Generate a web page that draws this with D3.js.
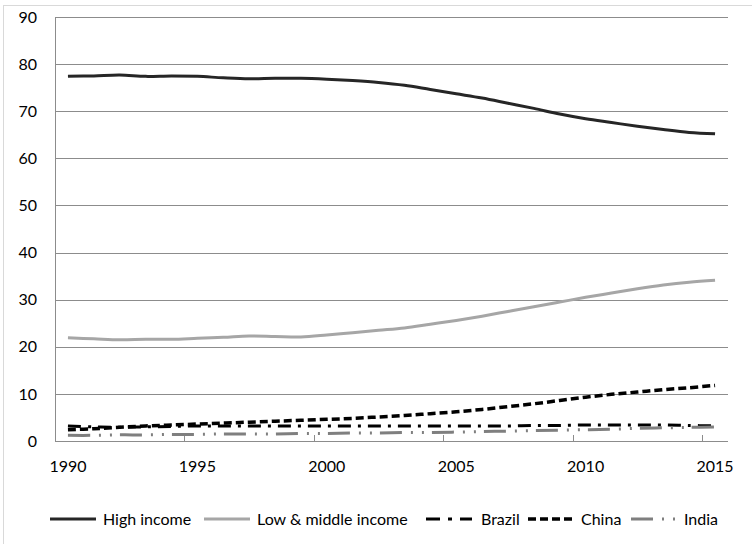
<!DOCTYPE html>
<html>
<head>
<meta charset="utf-8">
<script src="https://cdn.jsdelivr.net/npm/d3@7"></script>
<style>
  html, body { margin: 0; padding: 0; background: #fff; }
  svg { display: block; font-family: Lato, "Open Sans", sans-serif; }
</style>
</head>
<body>
<svg id="chart" width="752" height="544"></svg>
<script>
// Years on the category axis
const years = d3.range(1990, 2016);
const yTicks = [0, 10, 20, 30, 40, 50, 60, 70, 80, 90];
const xLabelYears = [1990, 1995, 2000, 2005, 2010, 2015];

// Series values, one per year
const highIncome = [77.4, 77.5, 77.7, 77.4, 77.5, 77.4, 77.1, 76.9, 77.0, 77.0,
  76.8, 76.5, 76.1, 75.5, 74.6, 73.7, 72.8, 71.7, 70.6, 69.4,
  68.4, 67.6, 66.8, 66.1, 65.5, 65.2];
const lowMiddle = [21.9, 21.7, 21.5, 21.6, 21.6, 21.8, 22.0, 22.3, 22.2, 22.1,
  22.5, 23.0, 23.5, 24.0, 24.8, 25.6, 26.5, 27.5, 28.5, 29.5,
  30.5, 31.4, 32.3, 33.1, 33.7, 34.1];
const brazil = [3.2, 3.0, 2.9, 3.0, 3.1, 3.2, 3.2, 3.2, 3.2, 3.2,
  3.2, 3.2, 3.2, 3.2, 3.2, 3.2, 3.2, 3.2, 3.3, 3.3,
  3.4, 3.4, 3.4, 3.4, 3.3, 3.2];
const china = [2.4, 2.6, 2.9, 3.2, 3.4, 3.6, 3.8, 4.0, 4.2, 4.4,
  4.6, 4.8, 5.1, 5.4, 5.8, 6.2, 6.7, 7.3, 7.9, 8.6,
  9.3, 9.9, 10.4, 10.9, 11.3, 11.8];
const india = [1.2, 1.2, 1.3, 1.3, 1.4, 1.4, 1.5, 1.5, 1.5, 1.6,
  1.6, 1.7, 1.7, 1.8, 1.8, 1.9, 2.0, 2.1, 2.2, 2.3,
  2.4, 2.5, 2.7, 2.8, 2.9, 3.0];

const seriesNames = ["High income", "Low & middle income", "Brazil", "China", "India"];
const seriesValues = [highIncome, lowMiddle, brazil, china, india];
const seriesStyle = [
  { color: "#262626", width: 3, dash: null },
  { color: "#a6a6a6", width: 3, dash: null },
  { color: "#000000", width: 3, dash: "13,7,3,7" },
  { color: "#000000", width: 3.5, dash: "8,4" },
  { color: "#7f7f7f", width: 3, dash: "22,9,2,9,2,8" }
];

const svg = d3.select("#chart");
const plot = { left: 55, right: 728, top: 17, bottom: 441 };

// Outer frame
svg.append("rect")
  .attr("x", 3.5).attr("y", 5.5)
  .attr("width", 760).attr("height", 560)
  .attr("fill", "none").attr("stroke", "#d9d9d9").attr("stroke-width", 1);

const x = d3.scaleBand().domain(years).range([plot.left, plot.right]).padding(0);
const y = d3.scaleLinear().domain([0, 90]).range([plot.bottom, plot.top]);

// Horizontal gridlines
svg.append("g")
  .selectAll("line")
  .data(yTicks.filter(d => d > 0))
  .join("line")
  .attr("x1", plot.left).attr("x2", plot.right)
  .attr("y1", d => Math.round(y(d)) + 0.5).attr("y2", d => Math.round(y(d)) + 0.5)
  .attr("stroke", "#8c8c8c").attr("stroke-width", 1);

// Y axis labels
const yAxis = d3.axisLeft(y).tickValues(yTicks).tickSize(0).tickPadding(18);
const gy = svg.append("g").attr("transform", `translate(${plot.left},0)`).call(yAxis);
gy.select(".domain").remove();
gy.selectAll("text").attr("font-size", 16).attr("fill", "#000")
  .attr("font-family", "Lato, sans-serif");

// Left axis line
svg.append("line")
  .attr("x1", plot.left + 0.5).attr("x2", plot.left + 0.5)
  .attr("y1", plot.top).attr("y2", plot.bottom)
  .attr("stroke", "#8c8c8c");

// Bottom axis line and category boundary ticks
svg.append("line")
  .attr("x1", plot.left).attr("x2", plot.right)
  .attr("y1", plot.bottom + 0.5).attr("y2", plot.bottom + 0.5)
  .attr("stroke", "#8c8c8c");
svg.append("g")
  .selectAll("line")
  .data(xLabelYears)
  .join("line")
  .attr("x1", d => Math.round(x(d)) + 0.5).attr("x2", d => Math.round(x(d)) + 0.5)
  .attr("y1", plot.bottom - 6).attr("y2", plot.bottom)
  .attr("stroke", "#8c8c8c");

// X axis labels at category centres
svg.append("g")
  .selectAll("text")
  .data(xLabelYears)
  .join("text")
  .attr("x", d => x(d) + x.bandwidth() / 2)
  .attr("y", 472)
  .attr("text-anchor", "middle")
  .attr("font-size", 16)
  .attr("fill", "#000")
  .text(d => d);

// Series lines
const line = d3.line()
  .x((d, i) => x(years[i]) + x.bandwidth() / 2)
  .y(d => y(d))
  .curve(d3.curveCatmullRom.alpha(0.5));

svg.append("g")
  .selectAll("path")
  .data(seriesValues)
  .join("path")
  .attr("d", d => line(d))
  .attr("fill", "none")
  .attr("stroke", (d, i) => seriesStyle[i].color)
  .attr("stroke-width", (d, i) => seriesStyle[i].width)
  .attr("stroke-dasharray", (d, i) => seriesStyle[i].dash)
  .attr("stroke-linejoin", "round");

// Legend
const legendX = [50, 204, 426, 528, 631];
const legendY = 519;
const legend = svg.append("g")
  .selectAll("g")
  .data(seriesNames)
  .join("g")
  .attr("transform", (d, i) => `translate(${legendX[i]},${legendY})`);
legend.append("line")
  .attr("x1", 0).attr("x2", 46)
  .attr("y1", 0).attr("y2", 0)
  .attr("stroke", (d, i) => seriesStyle[i].color)
  .attr("stroke-width", (d, i) => seriesStyle[i].width)
  .attr("stroke-dasharray", (d, i) => i === 2 ? "14,8,4,8" : i === 3 ? "8,4" : i === 4 ? "22,9,2,9,2,8" : null);
legend.append("text")
  .attr("x", (d, i) => i === 2 ? 55 : 53)
  .attr("y", 0)
  .attr("dy", "0.35em")
  .attr("font-size", 16)
  .attr("fill", "#000")
  .text(d => d);
</script>
</body>
</html>
